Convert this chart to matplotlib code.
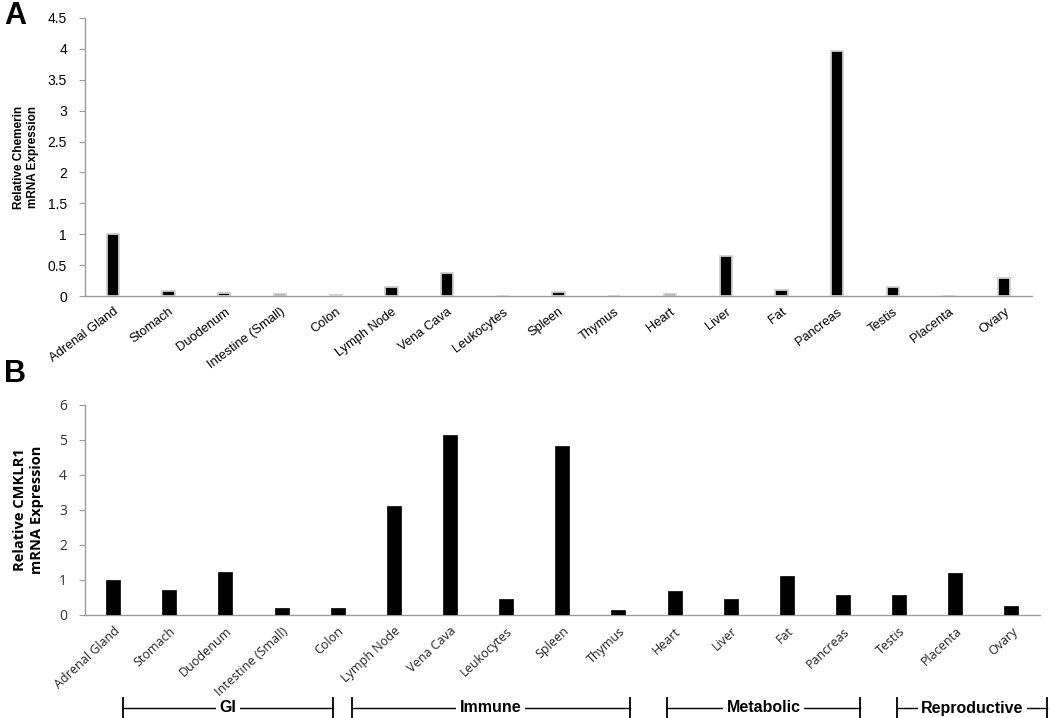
import numpy as np
import matplotlib
matplotlib.use('Agg')
import matplotlib.pyplot as plt
from matplotlib.transforms import blended_transform_factory

TISSUES = ['Adrenal Gland', 'Stomach', 'Duodenum', 'Intestine (Small)', 'Colon',
           'Lymph Node', 'Vena Cava', 'Leukocytes', 'Spleen', 'Thymus', 'Heart',
           'Liver', 'Fat', 'Pancreas', 'Testis', 'Placenta', 'Ovary']

CHEMERIN = [1.0, 0.08, 0.05, 0.03, 0.02, 0.15, 0.38, 0.005, 0.06, 0.005, 0.03,
            0.65, 0.10, 3.96, 0.15, 0.005, 0.29]
CMKLR1 = [1.0, 0.71, 1.24, 0.21, 0.21, 3.12, 5.14, 0.46, 4.83, 0.13, 0.69,
          0.46, 1.10, 0.58, 0.56, 1.21, 0.27]

A_TICKS = [0, 0.5, 1, 1.5, 2, 2.5, 3, 3.5, 4, 4.5]
A_TICKLABELS = ['0', '0.5', '1', '1.5', '2', '2.5', '3', '3.5', '4', '4.5']
B_TICKS = [0, 1, 2, 3, 4, 5, 6]

# tissue groups: (label, start, end) in category units
GROUPS = [('GI', 0.18, 3.91), ('Immune', 4.25, 9.2),
          ('Metabolic', 9.87, 13.3), ('Reproductive', 13.97, 16.64)]

AXIS_GREY = '#9a9a9a'
FONT_A = ['Liberation Sans', 'DejaVu Sans']
FONT_A_NARROW = ['Liberation Sans Narrow', 'Liberation Sans', 'DejaVu Sans']
FONT_B = ['Open Sans', 'DejaVu Sans']

fig = plt.figure(figsize=(10.5, 7.18), dpi=100)
axA = fig.add_axes([0.081, 0.5877, 0.902, 0.3873])
axB = fig.add_axes([0.081, 0.1435, 0.909, 0.2925])

x = np.arange(len(TISSUES))

# ---- panel A: chemerin
axA.bar(x, CHEMERIN, width=0.22, color='black', edgecolor='#cfcfcf',
        linewidth=1.3, zorder=3)
axA.set_xlim(-0.5, 16.5)
axA.set_ylim(0, 4.5)
axA.set_yticks(A_TICKS)
axA.set_yticklabels(A_TICKLABELS, family=FONT_A, fontsize=10)
axA.set_xticks(x)
axA.set_xticklabels(TISSUES, rotation=37, ha='right', rotation_mode='anchor',
                    family=FONT_A, fontsize=9.3)
axA.tick_params(axis='x', length=0, pad=7)
axA.tick_params(axis='y', length=4, color=AXIS_GREY, pad=9)
axA.set_ylabel('Relative Chemerin\nmRNA Expression', family=FONT_A_NARROW,
               fontsize=8.5, fontweight='bold', labelpad=6, linespacing=1.2)

# ---- panel B: CMKLR1
axB.bar(x, CMKLR1, width=0.25, color='black', edgecolor='black', linewidth=0.5,
        zorder=3)
axB.set_xlim(-0.5, 16.5)
axB.set_ylim(0, 6)
axB.set_yticks(B_TICKS)
axB.set_yticklabels([str(t) for t in B_TICKS], family=FONT_B, fontsize=10,
                    color='#333333')
axB.set_xticks(x)
axB.set_xticklabels(TISSUES, rotation=43, ha='right', rotation_mode='anchor',
                    family=FONT_B, fontsize=9, color='#222222')
axB.tick_params(axis='x', length=0, pad=7)
axB.tick_params(axis='y', length=4, color=AXIS_GREY, pad=9)
axB.set_ylabel('Relative CMKLR1\nmRNA Expression', family=FONT_B,
               fontsize=10.5, fontweight='bold', labelpad=11, linespacing=1.25)

for ax in (axA, axB):
    for side in ('top', 'right'):
        ax.spines[side].set_visible(False)
    for side in ('left', 'bottom'):
        ax.spines[side].set_color(AXIS_GREY)
        ax.spines[side].set_linewidth(1.0)

# ---- panel letters
fig.text(0.004, 0.998, 'A', fontsize=22, fontweight='bold', family=FONT_A,
         va='top', ha='left')
fig.text(0.004, 0.500, 'B', fontsize=22, fontweight='bold', family=FONT_A,
         va='top', ha='left')

# ---- group brackets below panel B
trans = blended_transform_factory(axB.transData, fig.transFigure)
yl = 1 - 708 / 718
for name, x0, x1 in GROUPS:
    axB.plot([x0, x1], [yl, yl], color='black', lw=1.0, transform=trans,
             clip_on=False)
    for xe in (x0, x1):
        axB.plot([xe, xe], [yl - 0.02, yl + 0.014], color='black', lw=1.3,
                 transform=trans, clip_on=False)
    axB.text((x0 + x1) / 2, yl, name, transform=trans, ha='center',
             va='center', fontsize=11.5, fontweight='bold', family=FONT_A,
             bbox=dict(facecolor='white', edgecolor='none', pad=2.5))

fig.savefig('out.png', dpi=100)
